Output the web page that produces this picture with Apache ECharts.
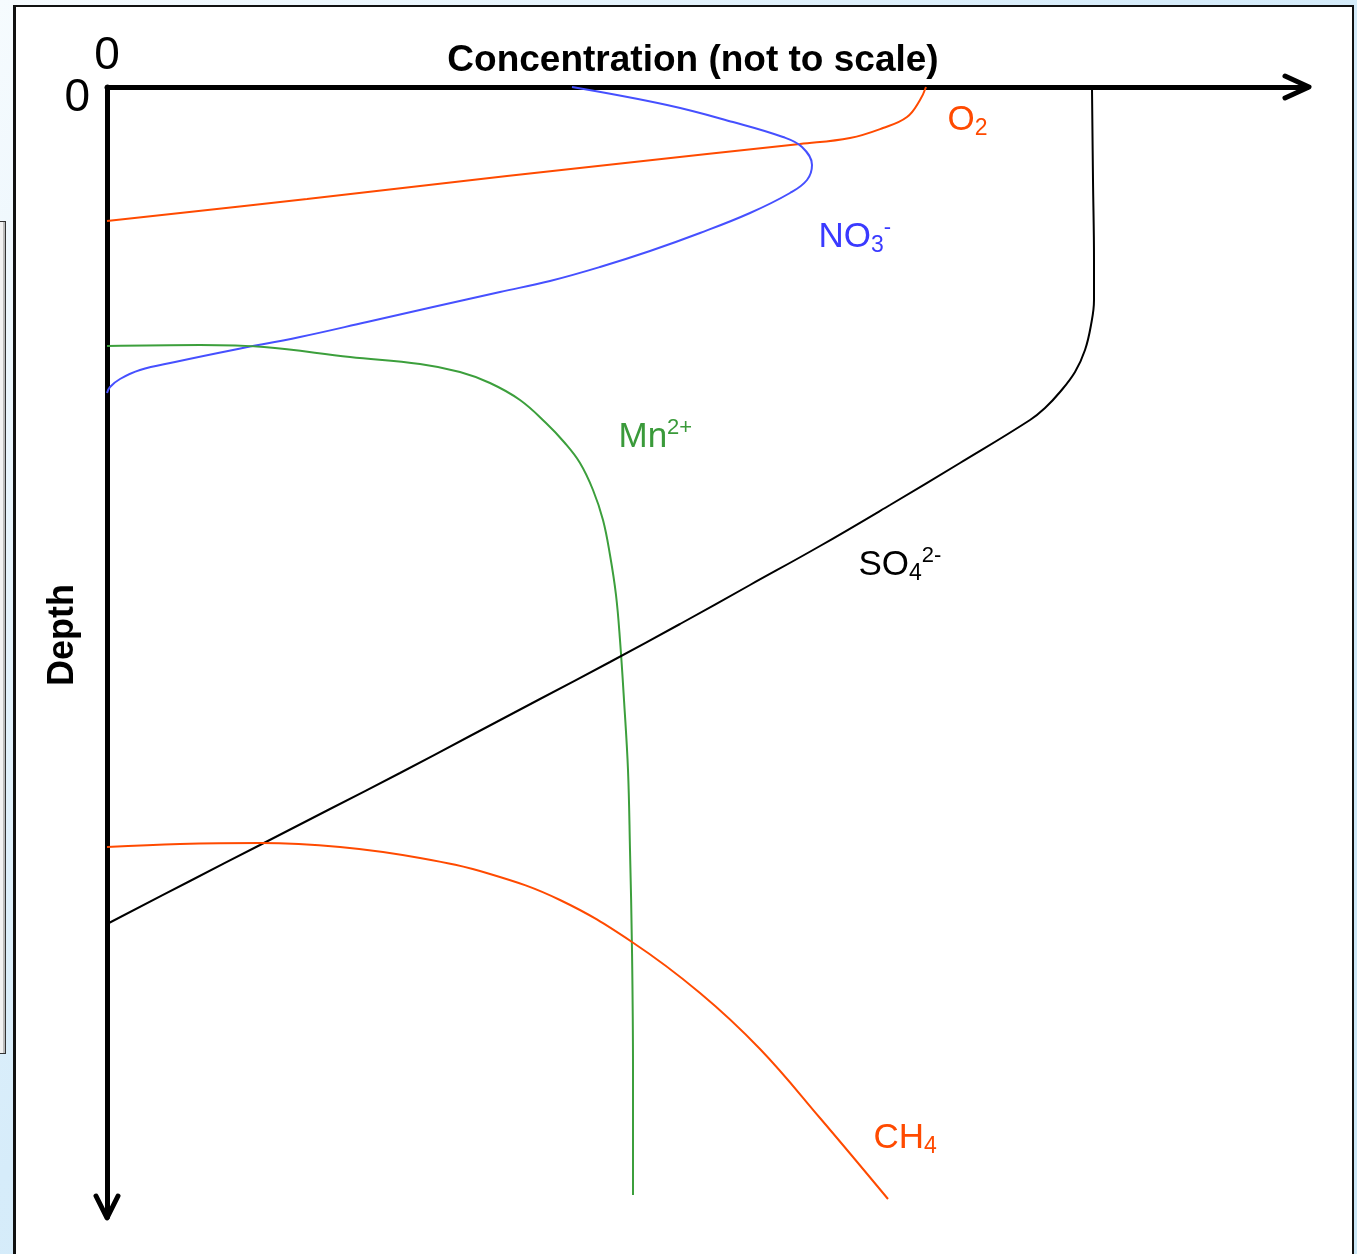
<!DOCTYPE html>
<html>
<head>
<meta charset="utf-8">
<script src="https://cdn.jsdelivr.net/npm/echarts@6/dist/echarts.min.js"></script>
<style>
  html, body { margin: 0; padding: 0; width: 1357px; height: 1254px; overflow: hidden; }
  body { background: linear-gradient(135deg, #f6fbfe 0%, #d6ecfa 45%, #cce8f7 100%); position: relative; }
  #panel { position: absolute; left: 13px; top: 5px; width: 1336px; height: 1300px; border: 2px solid #111; border-left-width: 3px; background: #fff; }
  #sidebox { position: absolute; left: -10px; top: 221px; width: 14px; height: 831px; border: 1px solid #333; background: #f2f2f2; box-shadow: inset -2px 0 0 #bbb; }
  #chart { position: absolute; left: 0; top: 0; width: 1357px; height: 1254px; }
</style>
</head>
<body>
<div id="sidebox"></div>
<div id="panel"></div>
<div id="chart"></div>
<script>
// ---- data (x = relative concentration, y = depth; arbitrary units) ----
const xLabelTicks = ['0'];
const yLabelTicks = ['0'];
const o2 = [[819,0],[813,13],[800,30],[776,41],[743,51],[693,57],[600,67],[400,89],[200,112],[0,134]];
const no3 = [[465,0],[560,18],[626,35],[676,50],[695,60],[705,78],[700,93],[683,106],[643,126],[593,146],[543,164],[493,180],[443,194],[393,205],[326,220],[260,235],[193,250],[126,263],[68,275],[33,283],[13,292],[3,300],[0,306]];
const mn = [[0,259],[93,258],[157,260],[243,270],[313,277],[353,285],[383,296],[413,313],[439,336],[457,355],[473,376],[486,403],[496,433],[503,468],[509,508],[513,553],[517,613],[521,683],[523,763],[525,863],[526,983],[526,1108]];
const so4 = [[985,2],[986,93],[987,173],[987,213],[984,238],[978,263],[968,285],[953,305],[938,321],[923,333],[853,376],[783,418],[713,459],[643,498],[573,537],[503,575],[433,612],[363,649],[293,686],[223,722],[153,758],[83,794],[0,837]];
const ch4 = [[0,760],[73,757],[153,756],[233,760],[313,771],[383,787],[453,813],[525,855],[593,906],[653,962],[713,1031],[781,1112]];
const seriesNames = ['O2', 'NO3-', 'Mn2+', 'SO42-', 'CH4'];
const seriesLabels = ['{m|O}{sub|2}', '{m|NO}{sub|3}{sup|-}', '{m|Mn}{sup|2+}', '{m|SO}{sub|4}{sup|2-}', '{m|CH}{sub|4}'];
const xTitle = 'Concentration (not to scale)';
const yTitle = 'Depth';

const X_MAX = 1200, Y_MAX = 1130;
const FONT = '"Liberation Sans", Arial, Helvetica, sans-serif';
const colors = ['#ff4a00', '#4650ff', '#3c9f3c', '#000000', '#ff4a00'];
const textColors = ['#ff4a00', '#3a3aff', '#3a9a3a', '#000000', '#ff4a00'];
const labelAnchors = [[840,33],[711,150],[511,350],[751,478],[766,1051]];
const allData = [o2, no3, mn, so4, ch4];

function richFor(c) {
  return {
    m: { fontSize: 35, lineHeight: 40, color: c, fontFamily: FONT },
    sub: { fontSize: 23, lineHeight: 16, verticalAlign: 'bottom', color: c, fontFamily: FONT },
    sup: { fontSize: 22, lineHeight: 30, verticalAlign: 'top', color: c, fontFamily: FONT }
  };
}

const chart = echarts.init(document.getElementById('chart'), null, { renderer: 'canvas' });
const option = {
  animation: false,
  backgroundColor: 'transparent',
  textStyle: { fontFamily: FONT },
  grid: { left: 107, top: 87, width: X_MAX, height: Y_MAX, containLabel: false, outerBoundsMode: 'none' },
  xAxis: {
    type: 'value', position: 'top', min: 0, max: X_MAX, interval: X_MAX,
    axisLine: { show: true, onZero: false, lineStyle: { color: '#000', width: 5, cap: 'round' } },
    axisTick: { show: false }, splitLine: { show: false },
    axisLabel: { formatter: v => (v === 0 ? xLabelTicks[0] : ''), fontSize: 46, color: '#000', margin: 8, fontFamily: FONT },
    name: xTitle, nameLocation: 'middle', nameGap: 8, nameMoveOverlap: false,
    nameTextStyle: { fontSize: 37, fontWeight: 'bold', color: '#000', fontFamily: FONT, padding: [0, 28, 0, 0] }
  },
  yAxis: {
    type: 'value', inverse: true, min: 0, max: Y_MAX, interval: Y_MAX,
    axisLine: { show: true, onZero: false, lineStyle: { color: '#000', width: 5, cap: 'round' } },
    axisTick: { show: false }, splitLine: { show: false },
    axisLabel: {
      formatter: v => (v === 0 ? '{z|' + yLabelTicks[0] + '}' : ''), margin: 17,
      rich: { z: { fontSize: 46, color: '#000', fontFamily: FONT, padding: [22, 0, 0, 0] } }
    },
    name: yTitle, nameLocation: 'middle', nameGap: 26, nameRotate: 90, nameMoveOverlap: false,
    nameTextStyle: { fontSize: 36, fontWeight: 'bold', color: '#000', fontFamily: FONT, padding: [0, 0, 0, 34] }
  },
  series: allData.map((d, i) => ({
    name: seriesNames[i],
    type: 'line',
    data: d,
    smooth: 0.4,
    showSymbol: false,
    silent: true,
    lineStyle: { color: colors[i], width: 2 },
    itemStyle: { color: colors[i] },
    markPoint: {
      silent: true,
      symbol: 'circle', symbolSize: 1,
      itemStyle: { color: 'rgba(0,0,0,0)' },
      label: { show: true, position: 'right', distance: 0, formatter: seriesLabels[i], rich: richFor(textColors[i]) },
      data: [{ coord: labelAnchors[i] }]
    }
  }))
};
chart.setOption(option);

// chevron arrowheads at the ends of both axes
const xEnd = chart.convertToPixel({ gridIndex: 0 }, [X_MAX, 0]);
const yEnd = chart.convertToPixel({ gridIndex: 0 }, [0, Y_MAX]);
const arrowStyle = { stroke: '#000', lineWidth: 5, lineCap: 'round', lineJoin: 'round', fill: null };
chart.setOption({
  graphic: [
    { type: 'polyline', shape: { points: [[xEnd[0] - 22, xEnd[1] - 11], [xEnd[0] + 2, xEnd[1]], [xEnd[0] - 22, xEnd[1] + 11]] }, style: arrowStyle, silent: true },
    { type: 'polyline', shape: { points: [[yEnd[0] - 11, yEnd[1] - 21], [yEnd[0], yEnd[1] + 1], [yEnd[0] + 11, yEnd[1] - 21]] }, style: arrowStyle, silent: true }
  ]
});
</script>
</body>
</html>
